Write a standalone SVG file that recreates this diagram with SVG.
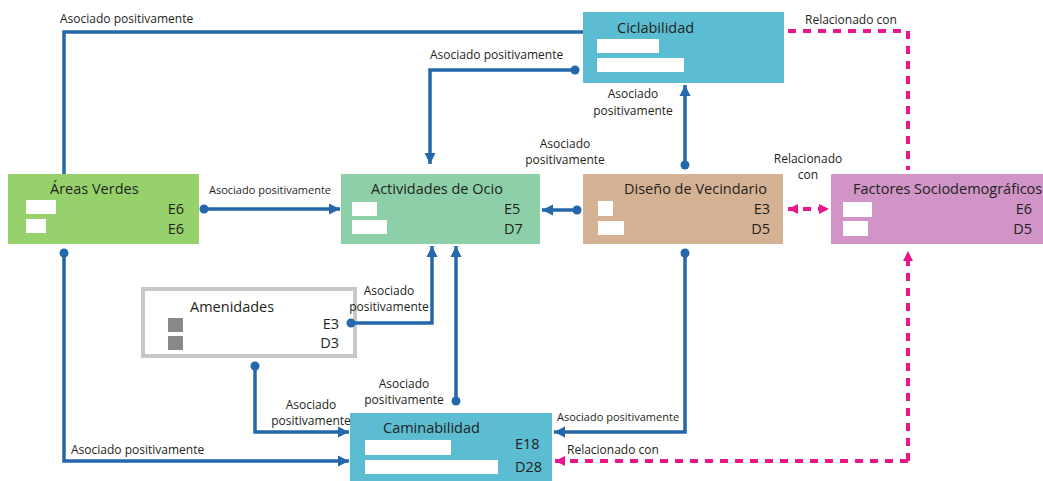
<svg xmlns="http://www.w3.org/2000/svg" width="1043" height="481" viewBox="0 0 1043 481">
<style>
.t{font-family:"Open Sans","Liberation Sans",sans-serif;fill:#231f20}
.title{font-size:14.5px}
.code{font-size:14.5px}
.lbl{font-size:12px}
.sm{font-size:11px}
.blue{fill:none;stroke:#2467ab;stroke-width:3.5;stroke-linecap:butt}
.pink{fill:none;stroke:#ec168c;stroke-width:4;stroke-dasharray:8 7}
.bar{fill:#ffffff}
</style>
<defs>
<marker id="ab" markerUnits="userSpaceOnUse" markerWidth="12" markerHeight="12" viewBox="0 0 12 12" refX="11" refY="6" orient="auto"><path d="M0,0.5 L11,6 L0,11.5 Z" fill="#2467ab"/></marker>
<marker id="db" markerUnits="userSpaceOnUse" markerWidth="10" markerHeight="10" viewBox="0 0 10 10" refX="5" refY="5" orient="auto"><circle cx="5" cy="5" r="4.5" fill="#2467ab"/></marker>
<marker id="ap" markerUnits="userSpaceOnUse" markerWidth="12" markerHeight="12" viewBox="0 0 12 12" refX="10" refY="6" orient="auto-start-reverse"><path d="M0,1 L10,6 L0,11 Z" fill="#ec168c"/></marker>
</defs>

<g id="ciclabilidad">
<rect x="583" y="12" width="201" height="71" fill="#5bbcd2"/>
<text class="t title" x="617" y="33">Ciclabilidad</text>
<rect class="bar" x="597" y="39" width="62" height="14"/>
<rect class="bar" x="597" y="58" width="87" height="14"/>
</g>

<g id="areas-verdes">
<rect x="8" y="174" width="191" height="70" fill="#97d16b"/>
<text class="t title" x="50" y="194">Áreas Verdes</text>
<rect class="bar" x="26" y="200" width="30" height="14"/>
<rect class="bar" x="26" y="219" width="20" height="14"/>
<text class="t code" x="184" y="214" text-anchor="end">E6</text>
<text class="t code" x="184" y="234" text-anchor="end">E6</text>
</g>

<g id="actividades-ocio">
<rect x="341" y="174" width="199" height="70" fill="#8dcfa8"/>
<text class="t title" x="371" y="194">Actividades de Ocio</text>
<rect class="bar" x="352" y="202" width="25" height="14"/>
<rect class="bar" x="352" y="220" width="35" height="14"/>
<text class="t code" x="504" y="214">E5</text>
<text class="t code" x="504" y="234">D7</text>
</g>

<g id="diseno-vecindario">
<rect x="583" y="174" width="200" height="70" fill="#d6b294"/>
<text class="t title" x="624" y="194">Diseño de Vecindario</text>
<rect class="bar" x="598" y="201" width="15" height="15"/>
<rect class="bar" x="598" y="221" width="26" height="14"/>
<text class="t code" x="770" y="214" text-anchor="end">E3</text>
<text class="t code" x="770" y="234" text-anchor="end">D5</text>
</g>

<g id="factores-sociodemograficos">
<rect x="831" y="174" width="212" height="70" fill="#d095c6"/>
<text class="t title" x="853" y="194">Factores Sociodemográficos</text>
<rect class="bar" x="843" y="202" width="29" height="15"/>
<rect class="bar" x="843" y="221" width="25" height="15"/>
<text class="t code" x="1032" y="214" text-anchor="end">E6</text>
<text class="t code" x="1032" y="234" text-anchor="end">D5</text>
</g>

<g id="amenidades">
<rect x="143" y="289" width="212" height="67" fill="#ffffff" stroke="#c8c8c8" stroke-width="4"/>
<text class="t title" x="190" y="312">Amenidades</text>
<rect x="168" y="318" width="15" height="14" fill="#888888"/>
<rect x="168" y="336" width="15" height="14" fill="#888888"/>
<text class="t code" x="339" y="329" text-anchor="end">E3</text>
<text class="t code" x="339" y="348" text-anchor="end">D3</text>
</g>

<g id="caminabilidad">
<rect x="350" y="413" width="202" height="68" fill="#5bbcd2"/>
<text class="t title" x="383" y="433">Caminabilidad</text>
<rect class="bar" x="365" y="440" width="86" height="15"/>
<rect class="bar" x="365" y="460" width="133" height="14"/>
<text class="t code" x="515" y="449">E18</text>
<text class="t code" x="515" y="472">D28</text>
</g>

<g id="connectors">
<path class="blue" d="M583,32 H64 V174"/>
<path class="blue" d="M575,70 H430 V164" marker-start="url(#db)" marker-end="url(#ab)"/>
<path class="blue" d="M685,165 V85" marker-start="url(#db)" marker-end="url(#ab)"/>
<path class="blue" d="M577,210 H542" marker-start="url(#db)" marker-end="url(#ab)"/>
<path class="blue" d="M204,209 H340" marker-start="url(#db)" marker-end="url(#ab)"/>
<path class="blue" d="M351,323 H432 V246" marker-start="url(#db)" marker-end="url(#ab)"/>
<path class="blue" d="M456,401 V246" marker-start="url(#db)" marker-end="url(#ab)"/>
<path class="blue" d="M255,366 V432 H349" marker-start="url(#db)" marker-end="url(#ab)"/>
<path class="blue" d="M64,253 V461 H349" marker-start="url(#db)" marker-end="url(#ab)"/>
<path class="blue" d="M685,253 V432 H554" marker-start="url(#db)" marker-end="url(#ab)"/>
<path class="pink" d="M788,31 H908 V170"/>
<path class="pink" d="M788,209 H829" marker-start="url(#ap)" marker-end="url(#ap)"/>
<path class="pink" d="M908,461 H555" marker-end="url(#ap)"/>
<path class="pink" d="M908,461 V251" marker-end="url(#ap)"/>
<g class="t lbl">
<text x="60" y="23">Asociado positivamente</text>
<text x="430" y="59">Asociado positivamente</text>
<text x="633" y="98" text-anchor="middle">Asociado</text>
<text x="633" y="115" text-anchor="middle">positivamente</text>
<text x="565" y="148" text-anchor="middle">Asociado</text>
<text x="565" y="164" text-anchor="middle">positivamente</text>
<text class="sm" x="270" y="194" text-anchor="middle">Asociado positivamente</text>
<text x="389" y="295" text-anchor="middle">Asociado</text>
<text x="389" y="311" text-anchor="middle">positivamente</text>
<text x="404" y="388" text-anchor="middle">Asociado</text>
<text x="404" y="404" text-anchor="middle">positivamente</text>
<text x="311" y="409" text-anchor="middle">Asociado</text>
<text x="311" y="425" text-anchor="middle">positivamente</text>
<text x="71" y="454">Asociado positivamente</text>
<text class="sm" x="557" y="421">Asociado positivamente</text>
<text x="567" y="454">Relacionado con</text>
<text x="805" y="24">Relacionado con</text>
<text x="808" y="163" text-anchor="middle">Relacionado</text>
<text x="808" y="179" text-anchor="middle">con</text>
</g>
</g>
</svg>
